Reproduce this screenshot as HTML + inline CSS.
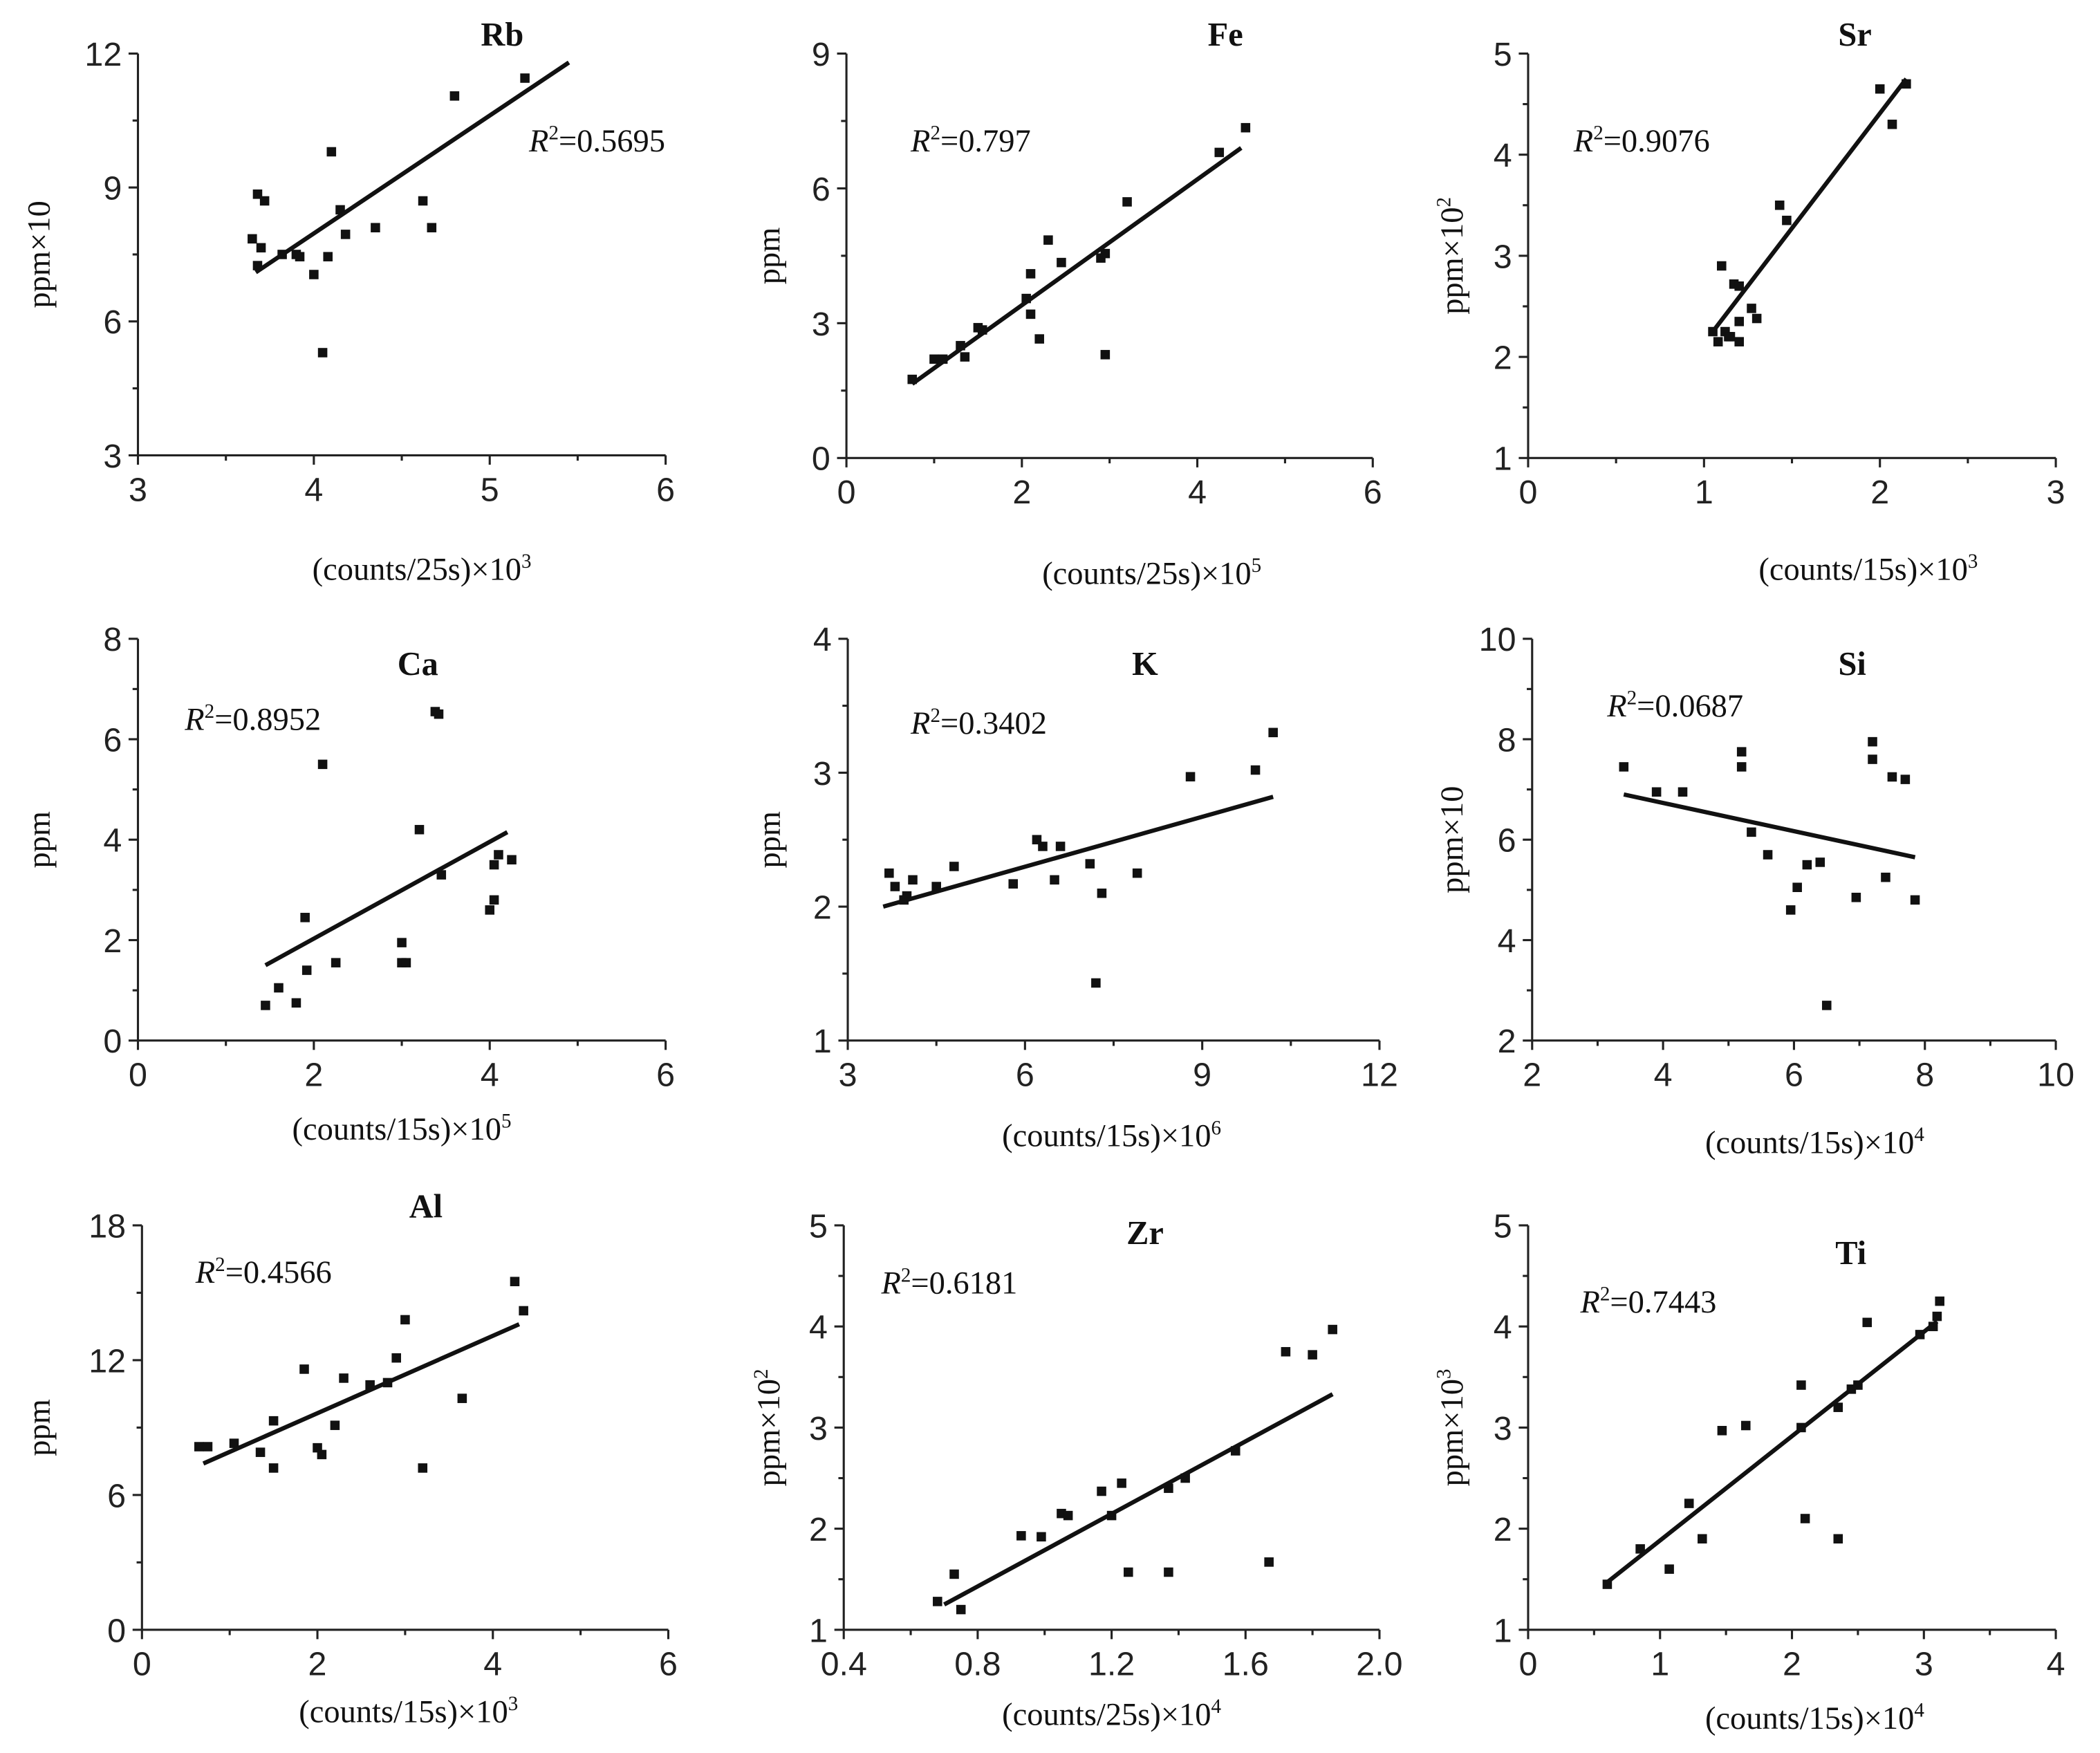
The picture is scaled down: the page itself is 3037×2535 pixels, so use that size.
<!DOCTYPE html>
<html><head><meta charset="utf-8"><style>
html,body{margin:0;padding:0;background:#fff;}
svg{display:block;}
.tk{font-family:"Liberation Sans",sans-serif;font-size:25px;fill:#222;}
.lb{font-family:"Liberation Serif",serif;font-size:24px;fill:#111;}
.tt{font-family:"Liberation Serif",serif;font-size:25px;font-weight:bold;fill:#111;}
</style></head><body>
<svg id="chart" width="3037" height="2535" viewBox="0 0 1568 1309" preserveAspectRatio="none" xmlns="http://www.w3.org/2000/svg"></svg>
<script>
// ---- data ----
const rbX=[3.65,3.68,3.7,3.68,3.72,3.82,3.9,3.92,4.0,4.05,4.08,4.1,4.15,4.18,4.35,4.62,4.67,4.8,5.2];
const rbY=[7.85,8.85,7.65,7.25,8.7,7.5,7.5,7.45,7.05,5.3,7.45,9.8,8.5,7.95,8.1,8.7,8.1,11.05,11.45];
const rbFit=[3.67,7.1,5.45,11.8];
const feX=[0.75,1.0,1.1,1.3,1.35,1.5,1.55,2.05,2.1,2.1,2.2,2.3,2.45,2.9,2.95,2.95,3.2,4.25,4.55];
const feY=[1.75,2.2,2.2,2.5,2.25,2.9,2.85,3.55,4.1,3.2,2.65,4.85,4.35,4.45,4.55,2.3,5.7,6.8,7.35];
const feFit=[0.75,1.65,4.5,6.9];
const srX=[1.05,1.08,1.1,1.12,1.14,1.15,1.17,1.2,1.2,1.2,1.27,1.3,1.43,1.47,2.0,2.07,2.15];
const srY=[2.25,2.15,2.9,2.25,2.2,2.2,2.72,2.7,2.35,2.15,2.48,2.38,3.5,3.35,4.65,4.3,4.7];
const srFit=[1.05,2.25,2.15,4.75];
const caX=[1.45,1.6,1.8,1.9,1.92,2.1,2.25,3.0,3.0,3.05,3.2,3.38,3.42,3.45,4.0,4.05,4.05,4.1,4.25];
const caY=[0.7,1.05,0.75,2.45,1.4,5.5,1.55,1.95,1.55,1.55,4.2,6.55,6.5,3.3,2.6,2.8,3.5,3.7,3.6];
const caFit=[1.45,1.5,4.2,4.15];
const kX=[3.7,3.8,3.95,4.0,4.1,4.5,4.8,5.8,6.2,6.3,6.5,6.6,7.1,7.2,7.3,7.9,8.8,9.9,10.2];
const kY=[2.25,2.15,2.05,2.08,2.2,2.15,2.3,2.17,2.5,2.45,2.2,2.45,2.32,1.43,2.1,2.25,2.97,3.02,3.3];
const kFit=[3.6,2.0,10.2,2.82];
const siX=[3.4,3.9,4.3,5.2,5.2,5.35,5.6,5.95,6.05,6.2,6.4,6.5,6.95,7.2,7.2,7.4,7.5,7.7,7.85];
const siY=[7.45,6.95,6.95,7.75,7.45,6.15,5.7,4.6,5.05,5.5,5.55,2.7,4.85,7.95,7.6,5.25,7.25,7.2,4.8];
const siFit=[3.4,6.9,7.85,5.65];
const alX=[0.65,0.75,1.05,1.35,1.5,1.5,1.85,2.0,2.05,2.2,2.3,2.6,2.8,2.9,3.0,3.2,3.65,4.25,4.35];
const alY=[8.15,8.15,8.3,7.9,9.3,7.2,11.6,8.1,7.8,9.1,11.2,10.9,11.0,12.1,13.8,7.2,10.3,15.5,14.2];
const alFit=[0.7,7.4,4.3,13.6];
const zrX=[0.68,0.73,0.75,0.93,0.99,1.05,1.07,1.17,1.2,1.23,1.25,1.37,1.37,1.42,1.57,1.67,1.72,1.8,1.86];
const zrY=[1.28,1.55,1.2,1.93,1.92,2.15,2.13,2.37,2.13,2.45,1.57,2.4,1.57,2.5,2.77,1.67,3.75,3.72,3.97];
const zrFit=[0.7,1.25,1.86,3.33];
const tiX=[0.6,0.85,1.07,1.22,1.32,1.47,1.65,2.07,2.07,2.1,2.35,2.35,2.45,2.5,2.57,2.97,3.07,3.1,3.12];
const tiY=[1.45,1.8,1.6,2.25,1.9,2.97,3.02,3.0,3.42,2.1,1.9,3.2,3.38,3.42,4.04,3.92,4.0,4.1,4.25];
const tiFit=[0.58,1.45,3.1,4.05];
const rbXT=["3","4","5","6"], rbYT=["3","6","9","12"];
const feXT=["0","2","4","6"], feYT=["0","3","6","9"];
const srXT=["0","1","2","3"], srYT=["1","2","3","4","5"];
const caXT=["0","2","4","6"], caYT=["0","2","4","6","8"];
const kXT=["3","6","9","12"], kYT=["1","2","3","4"];
const siXT=["2","4","6","8","10"], siYT=["2","4","6","8","10"];
const alXT=["0","2","4","6"], alYT=["0","6","12","18"];
const zrXT=["0.4","0.8","1.2","1.6","2.0"], zrYT=["1","2","3","4","5"];
const tiXT=["0","1","2","3","4"], tiYT=["1","2","3","4","5"];

const NS="http://www.w3.org/2000/svg";
const svg=document.getElementById('chart');
function mk(tag,attrs,parent){const e=document.createElementNS(NS,tag);for(const k in attrs)e.setAttribute(k,attrs[k]);(parent||svg).appendChild(e);return e;}

const panels=[
{id:'rb',name:'Rb',X:rbX,Y:rbY,F:rbFit,xt:rbXT,yt:rbYT,x0:103,x1:497,y0:340,y1:40,title:[375,25],r2:[395,105],r2t:'0.5695',yl:'ppm×10',ysup:'',ylx:30,xl:[315,425],xlc:'(counts/25s)×10',xsup:'3'},
{id:'fe',name:'Fe',X:feX,Y:feY,F:feFit,xt:feXT,yt:feYT,x0:632,x1:1025,y0:342,y1:40,title:[915,25],r2:[680,105],r2t:'0.797',yl:'ppm',ysup:'',ylx:575,xl:[860,428],xlc:'(counts/25s)×10',xsup:'5'},
{id:'sr',name:'Sr',X:srX,Y:srY,F:srFit,xt:srXT,yt:srYT,x0:1141,x1:1535,y0:342,y1:40,title:[1385,25],r2:[1175,105],r2t:'0.9076',yl:'ppm×10',ysup:'2',ylx:1085,xl:[1395,425],xlc:'(counts/15s)×10',xsup:'3'},
{id:'ca',name:'Ca',X:caX,Y:caY,F:caFit,xt:caXT,yt:caYT,x0:103,x1:497,y0:777,y1:477,title:[312,495],r2:[138,537],r2t:'0.8952',yl:'ppm',ysup:'',ylx:30,xl:[300,843],xlc:'(counts/15s)×10',xsup:'5'},
{id:'k',name:'K',X:kX,Y:kY,F:kFit,xt:kXT,yt:kYT,x0:633,x1:1030,y0:777,y1:477,title:[855,495],r2:[680,540],r2t:'0.3402',yl:'ppm',ysup:'',ylx:575,xl:[830,848],xlc:'(counts/15s)×10',xsup:'6'},
{id:'si',name:'Si',X:siX,Y:siY,F:siFit,xt:siXT,yt:siYT,x0:1144,x1:1535,y0:777,y1:477,title:[1383,495],r2:[1200,527],r2t:'0.0687',yl:'ppm×10',ysup:'',ylx:1085,xl:[1355,853],xlc:'(counts/15s)×10',xsup:'4'},
{id:'al',name:'Al',X:alX,Y:alY,F:alFit,xt:alXT,yt:alYT,x0:106,x1:499,y0:1217,y1:915,title:[318,900],r2:[146,950],r2t:'0.4566',yl:'ppm',ysup:'',ylx:30,xl:[305,1278],xlc:'(counts/15s)×10',xsup:'3'},
{id:'zr',name:'Zr',X:zrX,Y:zrY,F:zrFit,xt:zrXT,yt:zrYT,x0:630,x1:1030,y0:1217,y1:915,title:[855,920],r2:[658,958],r2t:'0.6181',yl:'ppm×10',ysup:'2',ylx:575,xl:[830,1280],xlc:'(counts/25s)×10',xsup:'4'},
{id:'ti',name:'Ti',X:tiX,Y:tiY,F:tiFit,xt:tiXT,yt:tiYT,x0:1141,x1:1535,y0:1217,y1:915,title:[1382,935],r2:[1180,972],r2t:'0.7443',yl:'ppm×10',ysup:'3',ylx:1085,xl:[1355,1283],xlc:'(counts/15s)×10',xsup:'4'}
];

panels.forEach(p=>{
  const g=mk('g',{});
  
  
  const xa=+p.xt[0], xb=+p.xt[p.xt.length-1], ya=+p.yt[0], yb=+p.yt[p.yt.length-1];
  const sx=v=>p.x0+(v-xa)/(xb-xa)*(p.x1-p.x0);
  const sy=v=>p.y0+(v-ya)/(yb-ya)*(p.y1-p.y0);
  const ax=mk('g',{stroke:'#222','stroke-width':1.6,fill:'none'},g);
  
  
  mk('line',{x1:p.x0,y1:p.y0,x2:p.x1,y2:p.y0},ax);
  mk('line',{x1:p.x0,y1:p.y0,x2:p.x0,y2:p.y1},ax);
  const nx=p.xt.length, ny=p.yt.length;
  p.xt.forEach((t,i)=>{
    const x=p.x0+i/(nx-1)*(p.x1-p.x0);
    mk('line',{x1:x,y1:p.y0,x2:x,y2:p.y0+7},ax);
    if(i<nx-1){const xm=p.x0+(i+0.5)/(nx-1)*(p.x1-p.x0);mk('line',{x1:xm,y1:p.y0,x2:xm,y2:p.y0+4},ax);}
    const tx=mk('text',{x:x,y:p.y0+34,'text-anchor':'middle',class:'tk'},g);tx.textContent=t;
    
    
  });
  p.yt.forEach((t,i)=>{
    const y=p.y0+i/(ny-1)*(p.y1-p.y0);
    mk('line',{x1:p.x0,y1:y,x2:p.x0-7,y2:y},ax);
    if(i<ny-1){const ym=p.y0+(i+0.5)/(ny-1)*(p.y1-p.y0);mk('line',{x1:p.x0,y1:ym,x2:p.x0-4,y2:ym},ax);}
    const ty=mk('text',{x:p.x0-12,y:y+9,'text-anchor':'end',class:'tk'},g);ty.textContent=t;
    
    
  });
  p.X.forEach((v,i)=>{
    const r=mk('rect',{x:sx(v)-3.5,y:sy(p.Y[i])-3.5,width:7,height:7,fill:'#111'},g);
    
    
  });
  const fl=mk('line',{x1:sx(p.F[0]),y1:sy(p.F[1]),x2:sx(p.F[2]),y2:sy(p.F[3]),stroke:'#111','stroke-width':3.2},g);
  
  
  const ti=mk('text',{x:p.title[0],y:p.title[1]+9,'text-anchor':'middle',class:'tt'},g);ti.textContent=p.name;
  
  
  const r2=mk('text',{x:p.r2[0],y:p.r2[1]+8,class:'lb','font-size':'25'},g);
  r2.innerHTML='<tspan font-style="italic">R</tspan><tspan dy="-9" font-size="15">2</tspan><tspan dy="9">='+p.r2t+'</tspan>';
  
  
  const yl=mk('text',{x:p.ylx+7,y:(p.y0+p.y1)/2,'text-anchor':'middle',class:'lb',transform:'rotate(-90 '+(p.ylx+7)+' '+((p.y0+p.y1)/2)+')'},g);
  yl.innerHTML=p.yl+(p.ysup?'<tspan dy="-9" font-size="15">'+p.ysup+'</tspan>':'');
  
  
  const xl=mk('text',{x:p.xl[0],y:p.xl[1]+8,'text-anchor':'middle',class:'lb'},g);
  xl.innerHTML=p.xlc+'<tspan dy="-9" font-size="15">'+p.xsup+'</tspan>';
  
  
});
</script>
</body></html>
